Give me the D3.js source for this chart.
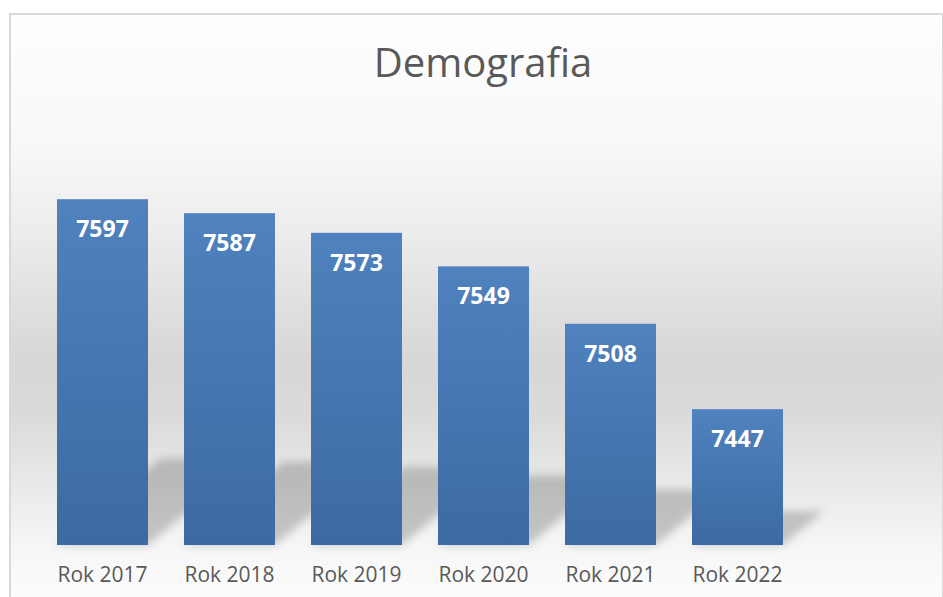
<!DOCTYPE html>
<html>
<head>
<meta charset="utf-8">
<script src="https://cdn.jsdelivr.net/npm/d3@7"></script>
<style>
  html, body { margin: 0; padding: 0; background: #ffffff; }
  svg { display: block; }
  text { font-family: "Open Sans", "Noto Sans", sans-serif; }
</style>
</head>
<body>
<svg id="chart" width="943" height="597"></svg>
<script>
// ---- data ----
const title = "Demografia";
const categories = ["Rok 2017", "Rok 2018", "Rok 2019", "Rok 2020", "Rok 2021", "Rok 2022"];
const values = [7597, 7587, 7573, 7549, 7508, 7447];
const yDomain = [7350, 7650];

// ---- layout ----
const W = 943, H = 597;
const svg = d3.select("#chart");
const defs = svg.append("defs");

// background gradient (chart area)
const bg = defs.append("linearGradient")
  .attr("id", "bgGrad").attr("gradientUnits", "userSpaceOnUse")
  .attr("x1", 0).attr("y1", 14).attr("x2", 0).attr("y2", 597);
[[14, "#fefefe"], [147, "#f8f8f8"], [247, "#eaeaea"], [314, "#dedede"], [360, "#d7d7d7"],
 [414, "#dadada"], [480, "#e8e8e8"], [547, "#f6f6f6"], [597, "#fcfcfc"]]
  .forEach(([y, c]) => bg.append("stop").attr("offset", (y - 14) / (597 - 14)).attr("stop-color", c));

// bar gradient
const bar = defs.append("linearGradient").attr("id", "barGrad")
  .attr("x1", 0).attr("y1", 0).attr("x2", 0).attr("y2", 1);
bar.append("stop").attr("offset", 0).attr("stop-color", "#4f82be");
bar.append("stop").attr("offset", 1).attr("stop-color", "#3c6aa3");

// blur for shadows
defs.append("filter").attr("id", "blur").attr("x", "-30%").attr("y", "-30%")
  .attr("width", "160%").attr("height", "160%")
  .append("feGaussianBlur").attr("stdDeviation", 4);

// chart area
svg.append("rect").attr("x", 10).attr("y", 14).attr("width", W - 10).attr("height", H)
  .attr("fill", "url(#bgGrad)").attr("stroke", "#d9d9d9").attr("stroke-width", 2);

// scales
const x = d3.scaleBand().domain(categories).range([39, 801])
  .paddingInner(0.2835).paddingOuter(0.14175);
const y = d3.scaleLinear().domain(yDomain).range([545, 125]);

const data = categories.map((c, i) => ({ cat: c, val: values[i] }));

// shadows
const shadowG = svg.append("g").attr("filter", "url(#blur)");
shadowG.selectAll("path").data(data).enter().append("path")
  .attr("d", d => {
    const x0 = x(d.cat), x1 = x0 + x.bandwidth();
    const base = y(yDomain[0]);
    const h = 0.25 * (base - y(d.val));
    const dx = 1.2 * h;
    return `M${x0},${base}L${x1},${base}L${x1 + dx},${base - h}L${x0 + dx},${base - h}Z`;
  })
  .attr("fill", "#000").attr("fill-opacity", 0.2);

// bars
svg.append("g").selectAll("rect").data(data).enter().append("rect")
  .attr("x", d => x(d.cat))
  .attr("y", d => y(d.val))
  .attr("width", x.bandwidth())
  .attr("height", d => y(yDomain[0]) - y(d.val))
  .attr("fill", "url(#barGrad)");

// value labels
svg.append("g").selectAll("text").data(data).enter().append("text")
  .attr("x", d => x(d.cat) + x.bandwidth() / 2)
  .attr("y", d => y(d.val) + 38)
  .attr("text-anchor", "middle")
  .attr("font-size", 23).attr("font-weight", "bold").attr("fill", "#ffffff")
  .text(d => d.val);

// x axis
const xAxis = svg.append("g").attr("transform", `translate(0,${y(yDomain[0])})`)
  .call(d3.axisBottom(x).tickSize(0).tickPadding(0));
xAxis.select(".domain").remove();
xAxis.selectAll("text")
  .attr("y", 37).attr("dy", 0)
  .attr("font-size", 21).attr("fill", "#595959")
  .style("font-family", "'Open Sans', 'Noto Sans', sans-serif");

// title
svg.append("text").attr("x", 483).attr("y", 77).attr("text-anchor", "middle")
  .attr("font-size", 40).attr("fill", "#595959").text(title);
</script>
</body>
</html>
